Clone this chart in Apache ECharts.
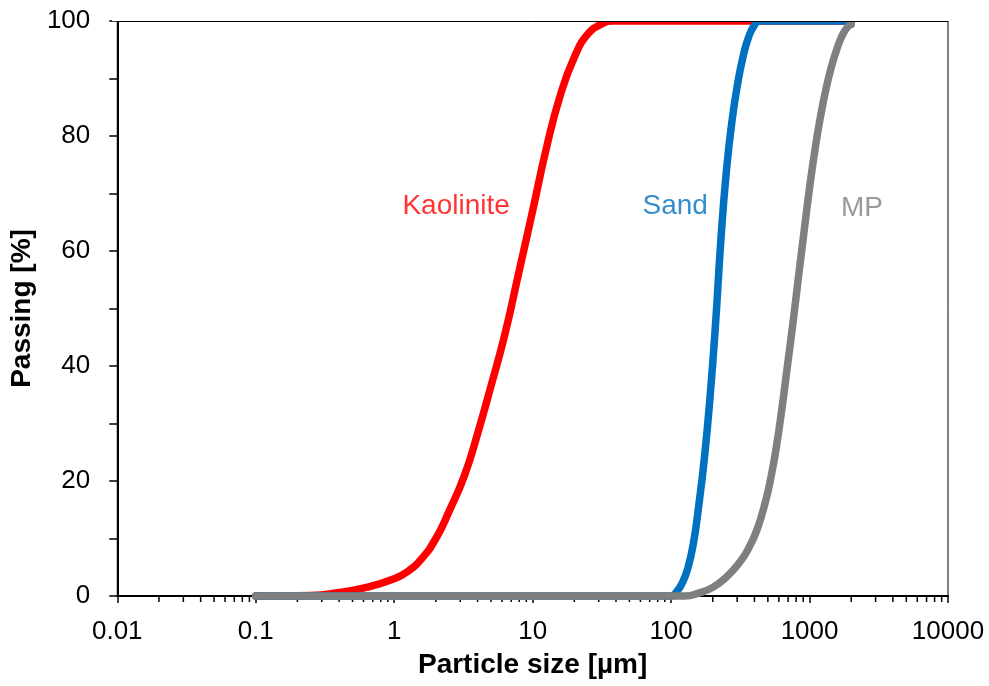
<!DOCTYPE html>
<html>
<head>
<meta charset="utf-8">
<script src="https://cdn.jsdelivr.net/npm/echarts@6/dist/echarts.min.js"></script>
<style>
  html, body { margin: 0; padding: 0; background: #fff; }
  #chart { width: 989px; height: 686px; }
</style>
</head>
<body>
<div id="chart"></div>
<script>
// particle size [µm] and passing [%]
const kaoliniteSize = [0.1, 0.25, 0.4, 0.63, 1, 1.26, 1.58, 2, 2.5, 3.2, 4, 5, 6.3, 7.9, 10, 12.6, 15.8, 20, 25, 31.6, 38, 2000];
const kaolinitePass = [0, 0.1, 0.6, 1.5, 3.0, 4.3, 6.5, 10, 14.8, 20.8, 28.2, 36.5, 45.5, 56, 67, 78, 87, 93.7, 97.7, 99.5, 100, 100];

const sandSize = [0.1, 100, 110, 120, 132, 145, 158, 174, 191, 209, 229, 251, 275, 302, 331, 363, 398, 437, 2000];
const sandPass = [0, 0, 0.8, 2.2, 4.8, 9.2, 15.5, 24, 34.5, 47, 62, 74, 82.5, 89, 93.8, 97.2, 99.2, 100, 100];

const mpSize = [0.1, 126, 158, 200, 251, 316, 363, 417, 479, 525, 575, 631, 692, 759, 832, 912, 1000, 1096, 1202, 1318, 1445, 1585, 1738, 1905, 2000];
const mpPass = [0, 0, 0.5, 1.5, 3.3, 6.0, 8.3, 11.5, 16.3, 20.5, 25.8, 32.5, 40, 47.5, 55.5, 63.3, 71, 77.7, 83.5, 88.3, 92.2, 95.3, 97.7, 99.1, 99.4];

// log-axis minor ticks (2..9 within each decade)
const decades = [0.01, 0.1, 1, 10, 100, 1000];
const minorMultipliers = [2, 3, 4, 5, 6, 7, 8, 9];

// curve annotations: [name, size, passing]
const curveLabels = [
  ['Kaolinite', 2.8, 67.7],
  ['Sand', 107, 67.7],
  ['MP', 2390, 67.5]
];

const colors = { Kaolinite: '#FF0000', Sand: '#0070C0', MP: '#7F7F7F' };
const FONT = 'Liberation Sans, Arial, sans-serif';

const zip = (xs, ys) => xs.map((x, i) => [x, ys[i]]);
const minorTicks = [];
decades.forEach(d => minorMultipliers.forEach(m => minorTicks.push([+(d * m).toPrecision(6), 0])));

const chart = echarts.init(document.getElementById('chart'));

const gridLeft = 117, gridTop = 21, gridRight = 41, gridBottom = 90;

const lineSeries = (name, data) => ({
  name: name,
  type: 'line',
  data: data,
  smooth: 0.5,
  showSymbol: false,
  symbol: 'none',
  clip: false,
  lineStyle: { color: colors[name], width: 7.5, cap: 'round', join: 'round' },
  silent: true
});

const option = {
  animation: false,
  backgroundColor: '#fff',
  grid: {
    left: gridLeft, right: gridRight, top: gridTop, bottom: gridBottom,
    show: true, borderColor: '#000', borderWidth: 1
  },
  // plot-area clipping at the top edge, like the original
  graphic: [
    {
      type: 'rect', z: 100, silent: true,
      shape: { x: gridLeft - 5, y: 0, width: 989 - gridLeft - gridRight + 10, height: gridTop },
      style: { fill: '#fff' }
    },
    {
      type: 'line', z: 101, silent: true,
      shape: { x1: gridLeft, y1: gridTop + 0.5, x2: 989 - gridRight, y2: gridTop + 0.5 },
      style: { stroke: '#000', lineWidth: 1 }
    }
  ],
  xAxis: {
    type: 'log',
    logBase: 10,
    min: 0.01,
    max: 10000,
    interval: 1,
    splitNumber: 6,
    name: 'Particle size [µm]',
    nameLocation: 'middle',
    nameGap: 55,
    nameTextStyle: { fontFamily: FONT, fontSize: 28, fontWeight: 'bold', color: '#000' },
    axisLine: { show: true, lineStyle: { color: '#000', width: 2 } },
    axisTick: { show: true, inside: false, length: 7, lineStyle: { color: '#000', width: 1.5 } },
    axisLabel: {
      fontFamily: FONT, fontSize: 26, color: '#000', margin: 23,
      formatter: v => String(parseFloat(Number(v).toPrecision(6)))
    },
    splitLine: { show: false },
    minorTick: { show: false }
  },
  yAxis: {
    type: 'value',
    min: 0,
    max: 100,
    interval: 20,
    name: 'Passing [%]',
    nameLocation: 'middle',
    nameGap: 74,
    nameTextStyle: { fontFamily: FONT, fontSize: 28, fontWeight: 'bold', color: '#000' },
    axisLine: { show: true, lineStyle: { color: '#000', width: 2 } },
    axisTick: { show: true, inside: false, length: 8, lineStyle: { color: '#000', width: 1.5 } },
    minorTick: { show: true, splitNumber: 2, length: 8, lineStyle: { color: '#000', width: 1.5 } },
    axisLabel: { fontFamily: FONT, fontSize: 26, color: '#000', margin: 27 },
    splitLine: { show: false }
  },
  series: [
    {
      type: 'custom',
      silent: true,
      clip: false,
      data: minorTicks,
      renderItem: (params, api) => {
        const p = api.coord([api.value(0), 0]);
        return {
          type: 'line',
          shape: { x1: p[0], y1: p[1], x2: p[0], y2: p[1] + 6 },
          style: { stroke: '#000', lineWidth: 1.5 }
        };
      }
    },
    lineSeries('Kaolinite', zip(kaoliniteSize, kaolinitePass)),
    lineSeries('Sand', zip(sandSize, sandPass)),
    lineSeries('MP', zip(mpSize, mpPass)),
    {
      type: 'scatter',
      silent: true,
      symbolSize: 0,
      data: curveLabels.map(l => ({
        value: [l[1], l[2]],
        label: {
          show: true,
          position: 'inside',
          formatter: l[0],
          fontFamily: FONT,
          fontSize: 28,
          color: colors[l[0]]
        }
      }))
    }
  ]
};

chart.setOption(option);
</script>
</body>
</html>
